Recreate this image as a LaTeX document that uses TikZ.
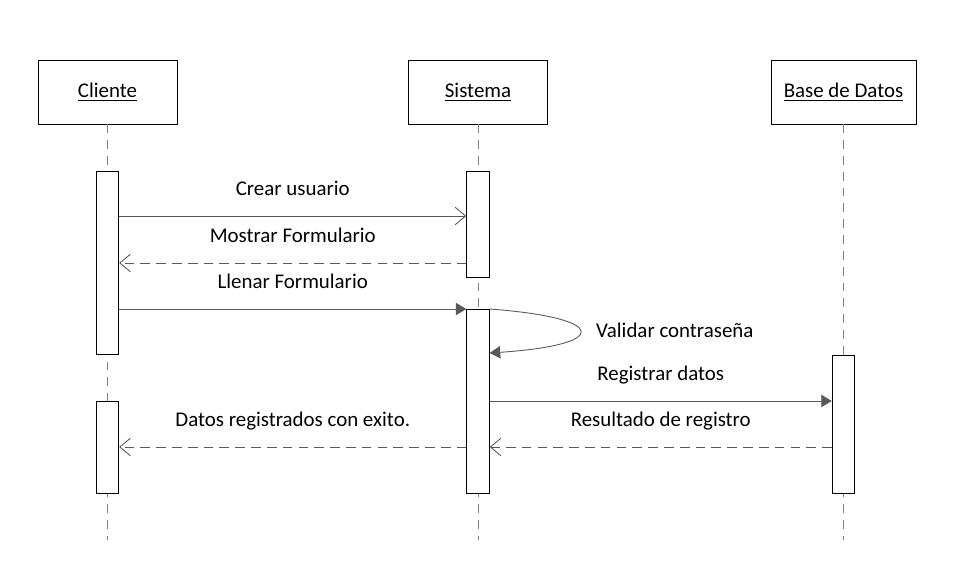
\documentclass[tikz,border=0pt]{standalone}
\usepackage{fontspec}
\setmainfont{Carlito}
\usetikzlibrary{arrows.meta}
\begin{document}
\begin{tikzpicture}[x=0.02cm, y=-0.02cm, font=\fontsize{11.9}{14}\selectfont,
  objeto/.style={draw, line width=0.5pt, inner sep=0, minimum width=2.78cm, minimum height=1.28cm},
  activo/.style={draw, fill=white, line width=0.5pt, inner sep=0, minimum width=0.45cm},
  vida/.style={draw=gray, dash pattern=on 5pt off 4pt, line width=0.5pt},
  etiqueta/.style={above=0.2cm, text height=8pt, text depth=2.5pt},
  mensaje/.style={draw=black!65, line width=0.5pt, -{Triangle[length=6pt, width=7pt]}},
  llamada/.style={draw=black!65, line width=0.5pt, -{Straight Barb[length=6pt, width=10pt]}},
  respuesta/.style={draw=black!65, line width=0.5pt, dash pattern=on 5.5pt off 3.5pt, -{Straight Barb[length=6pt, width=10pt]}}]
\useasboundingbox (0,0) rectangle (955,563);
% Objetos
\node [objeto] (cli) at (107.5,92) {\underline{Cliente}};
\node [objeto] (sis) at (478,92) {\underline{Sistema}};
\node [objeto, minimum width=2.9cm] (bd) at (843.5,92) {\underline{Base de Datos}};
% Lineas de vida
\coordinate (cliFin) at (107.5,540);
\coordinate (sisFin) at (478,540);
\coordinate (bdFin) at (843.5,540);
\path [vida] (cli.south) -- (cliFin);
\path [vida] (sis.south) -- (sisFin);
\path [vida] (bd.south) -- (bdFin);
% Activaciones
\node [activo, minimum height=3.66cm] (cliA) at (107.5,262.5) {};
\node [activo, minimum height=1.84cm] (cliB) at (107.5,447) {};
\node [activo, minimum height=2.12cm] (sisA) at (478,224) {};
\node [activo, minimum height=3.68cm] (sisB) at (478,401) {};
\node [activo, minimum height=2.76cm] (bdA) at (843.5,424) {};
% Mensajes
\coordinate (y1) at (0,216);
\coordinate (y2) at (0,263);
\coordinate (y3) at (0,309);
\coordinate (y4) at (0,353);
\coordinate (y5) at (0,401);
\coordinate (y6) at (0,447);
\path (cliA.east |- y1) edge [llamada] node [etiqueta] {Crear usuario} (sisA.west |- y1);
\path (sisA.west |- y2) edge [respuesta] node [etiqueta] {Mostrar Formulario} (cliA.east |- y2);
\path (cliA.east |- y3) edge [mensaje] node [etiqueta] {Llenar Formulario} (sisB.west |- y3);
\draw [mensaje] (sisB.east |- y3) .. controls (610,318) and (610,345) .. (sisB.east |- y4);
\node [anchor=west] (validar) at (590,330) {Validar contraseña};
\path (sisB.east |- y5) edge [mensaje] node [etiqueta] {Registrar datos} (bdA.west |- y5);
\path (bdA.west |- y6) edge [respuesta] node [etiqueta] {Resultado de registro} (sisB.east |- y6);
\path (sisB.west |- y6) edge [respuesta] node [etiqueta] {Datos registrados con exito.} (cliB.east |- y6);
\end{tikzpicture}
\end{document}
